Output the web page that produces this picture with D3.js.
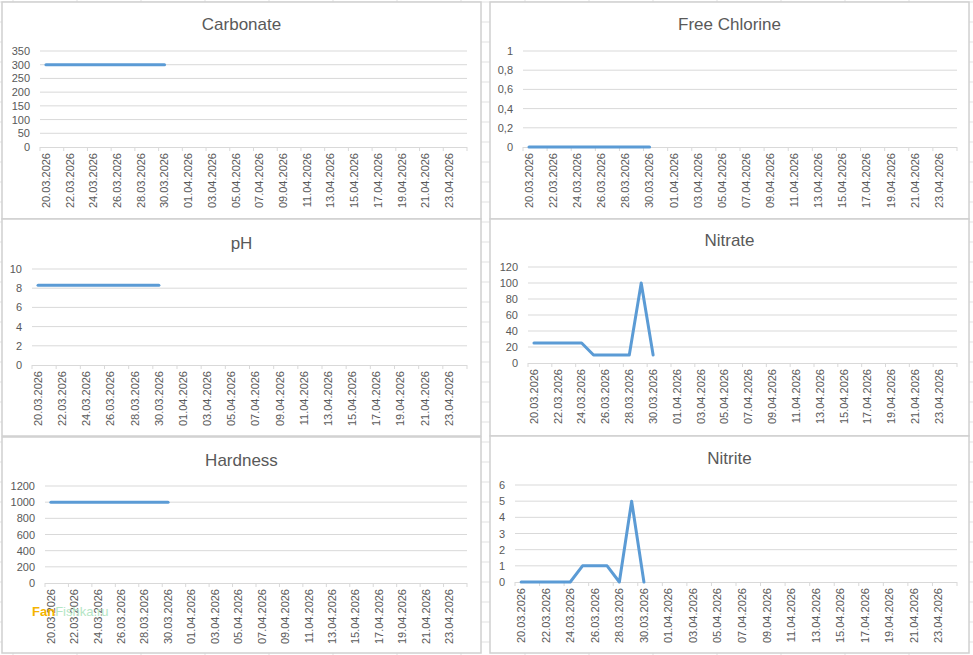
<!DOCTYPE html>
<html><head><meta charset="utf-8">
<script src="https://cdn.jsdelivr.net/npm/d3@7"></script>
<style>
html,body{margin:0;padding:0;background:#fff;}
svg{display:block;font-family:"Liberation Sans",Arial,sans-serif;}
</style></head>
<body>
<svg id="c" width="973" height="655"></svg>
<script>
// ---- data ----
const dates = ["20.03.2026","21.03.2026","22.03.2026","23.03.2026","24.03.2026","25.03.2026",
  "26.03.2026","27.03.2026","28.03.2026","29.03.2026","30.03.2026","31.03.2026",
  "01.04.2026","02.04.2026","03.04.2026","04.04.2026","05.04.2026","06.04.2026",
  "07.04.2026","08.04.2026","09.04.2026","10.04.2026","11.04.2026","12.04.2026",
  "13.04.2026","14.04.2026","15.04.2026","16.04.2026","17.04.2026","18.04.2026",
  "19.04.2026","20.04.2026","21.04.2026","22.04.2026","23.04.2026","24.04.2026"];
const carbonate    = [300,300,300,300,300,300,300,300,300,300,300];
const freeChlorine = [0,0,0,0,0,0,0,0,0,0,0];
const ph           = [8.3,8.3,8.3,8.3,8.3,8.3,8.3,8.3,8.3,8.3,8.3];
const nitrate      = [25,25,25,25,25,10,10,10,10,100,10];
const hardness     = [1000,1000,1000,1000,1000,1000,1000,1000,1000,1000,1000];
const nitrite      = [0,0,0,0,0,1,1,1,0,5,0];

const carbonateTicks = [0,50,100,150,200,250,300,350];
const chlorineTicks  = [0,0.2,0.4,0.6,0.8,1];
const phTicks        = [0,2,4,6,8,10];
const nitrateTicks   = [0,20,40,60,80,100,120];
const hardnessTicks  = [0,200,400,600,800,1000,1200];
const nitriteTicks   = [0,1,2,3,4,5,6];

// ---- layout ----
const panels = [
  {title:"Carbonate",     values:carbonate,    ticks:carbonateTicks, frame:[2,2,481,219],   titleY:30,  px:[40,467],  py:[51,147]},
  {title:"Free Chlorine", values:freeChlorine, ticks:chlorineTicks,  frame:[490,2,969,219], titleY:30,  px:[523,957], py:[51,147]},
  {title:"pH",            values:ph,           ticks:phTicks,        frame:[2,219,481,436], titleY:249, px:[32,467],  py:[269,365]},
  {title:"Nitrate",       values:nitrate,      ticks:nitrateTicks,   frame:[490,219,969,436],titleY:246, px:[528,957], py:[267,363]},
  {title:"Hardness",      values:hardness,     ticks:hardnessTicks,  frame:[2,437,481,653], titleY:466, px:[45,467],  py:[486,583]},
  {title:"Nitrite",       values:nitrite,      ticks:nitriteTicks,   frame:[490,436,969,653],titleY:464, px:[515,957], py:[485,582]}
];

const svg = d3.select("#c");
const W = 973, H = 655;

// Excel cell grid in background
const bg = svg.append("g");
bg.append("rect").attr("width",W).attr("height",H).attr("fill","#fff");
for (let x = 13; x < W; x += 64) bg.append("line").attr("x1",x).attr("x2",x).attr("y1",0).attr("y2",H).attr("stroke","#e1e1e1");
for (let y = 2; y < H; y += 20) bg.append("line").attr("x1",0).attr("x2",W).attr("y1",y).attr("y2",y).attr("stroke","#e1e1e1");

const fmt = v => String(v).replace(".", ",");
const txt = "#595959", grid = "#d9d9d9", blue = "#5b9bd5";

panels.forEach(p => {
  const g = svg.append("g");
  const [fx0, fy0, fx1, fy1] = p.frame;
  g.append("rect").attr("x",fx0).attr("y",fy0).attr("width",fx1-fx0).attr("height",fy1-fy0)
    .attr("fill","#fff").attr("stroke","#d0d0d0").attr("stroke-width",1.5);

  g.append("text").attr("x",(fx0+fx1)/2).attr("y",p.titleY).attr("text-anchor","middle")
    .attr("font-size",17).attr("fill",txt).text(p.title);

  const x = d3.scaleBand().domain(dates).range(p.px).paddingInner(0).paddingOuter(0);
  const y = d3.scaleLinear().domain([0, d3.max(p.ticks)]).range([p.py[1], p.py[0]]);

  // gridlines
  g.append("g").selectAll("line").data(p.ticks.filter(t => t !== 0)).join("line")
    .attr("x1",p.px[0]).attr("x2",p.px[1]).attr("y1",d=>y(d)).attr("y2",d=>y(d))
    .attr("stroke",grid).attr("stroke-width",1);

  // y axis labels
  const ya = d3.axisLeft(y).tickValues(p.ticks).tickSize(0).tickPadding(10).tickFormat(fmt);
  const yg = g.append("g").attr("transform",`translate(${p.px[0]},0)`).call(ya);
  yg.select(".domain").remove();
  yg.selectAll("text").attr("font-size",11).attr("fill",txt).attr("font-family","Liberation Sans, Arial, sans-serif");

  // x axis
  const labelDates = dates.filter((d,i) => i % 2 === 0);
  const xa = d3.axisBottom(x).tickValues(labelDates).tickSize(0).tickPadding(0);
  const xg = g.append("g").attr("transform",`translate(0,${p.py[1]})`).call(xa);
  xg.select(".domain").attr("stroke",grid).attr("d",`M${p.px[0]},0.5H${p.px[1]}`);
  xg.selectAll("text").attr("font-size",11).attr("fill",txt).attr("font-family","Liberation Sans, Arial, sans-serif")
    .attr("transform","rotate(-90)").attr("text-anchor","end").attr("x",-6).attr("y",0).attr("dy","0.35em");
  // tick marks at category boundaries every 2 categories
  const bounds = dates.filter((d,i)=> i % 2 === 0).map(d => x(d)).concat([p.px[1]]);
  g.append("g").selectAll("line").data(bounds).join("line")
    .attr("x1",d=>d).attr("x2",d=>d).attr("y1",p.py[1]).attr("y2",p.py[1]+4)
    .attr("stroke",grid);

  // series line
  const line = d3.line().x((d,i)=> x(dates[i]) + x.bandwidth()/2).y(d=>y(d));
  g.append("path").datum(p.values).attr("d",line).attr("fill","none")
    .attr("stroke",blue).attr("stroke-width",3).attr("stroke-linejoin","round").attr("stroke-linecap","round");
});

// watermark
const wm = svg.append("text").attr("x",32).attr("y",616).attr("font-size",13).attr("font-weight","bold");
wm.append("tspan").attr("fill","#f5b400").text("Fan");
wm.append("tspan").attr("fill","#b5e6c5").attr("font-weight","normal").text("Fishka.ru");
</script>
</body></html>
